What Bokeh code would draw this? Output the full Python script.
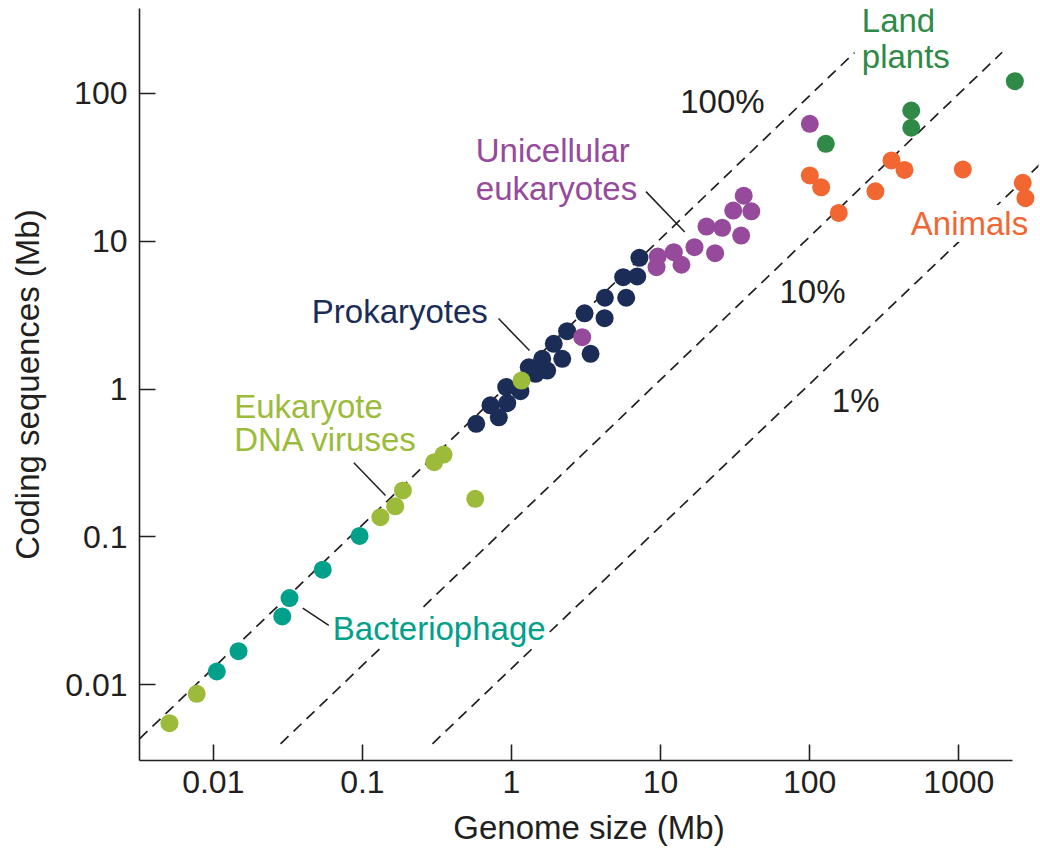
from bokeh.plotting import figure
from bokeh.models import FixedTicker, Label, Range1d
from bokeh.embed import file_html
from bokeh.resources import INLINE

# ---------------- data (Mb) ----------------
phage_x = [0.01055, 0.01476, 0.0290, 0.03244, 0.0542, 0.0957]
phage_y = [0.0123, 0.01687, 0.0290, 0.03855, 0.060, 0.1016]

virus_x = [0.00508, 0.00774, 0.132, 0.166, 0.187, 0.303, 0.350, 0.571, 1.167]
virus_y = [0.00550, 0.00869, 0.136, 0.161, 0.206, 0.320, 0.360, 0.181, 1.14]

prok_x = [0.580, 0.723, 0.822, 0.936, 0.921, 1.148, 1.306, 1.449, 1.607, 1.735, 1.92,
          2.19, 2.36, 3.39, 3.09, 4.21, 4.23, 5.88, 5.61, 6.97, 7.21]
prok_y = [0.582, 0.776, 0.644, 0.802, 1.03, 0.966, 1.403, 1.267, 1.599, 1.333, 2.02,
          1.60, 2.46, 1.73, 3.25, 3.01, 4.14, 4.14, 5.70, 5.77, 7.71]

unicell_x = [2.98, 9.57, 9.39, 12.26, 13.8, 16.87, 23.2, 20.3, 25.9, 34.7, 30.7, 40.6, 36.1, 100.2]
unicell_y = [2.24, 7.87, 6.66, 8.41, 6.92, 9.10, 8.28, 12.55, 12.3, 10.9, 16.1, 15.9, 20.3, 62.1]

plant_x = [128.3, 479.8, 479.8, 2377]
plant_y = [45.5, 76.4, 58.4, 120.5]

animal_x = [100.2, 119.4, 156.7, 276, 353.7, 432.5, 1064, 2685, 2798]
animal_y = [27.8, 23.1, 15.5, 21.7, 35.1, 30.3, 30.5, 24.8, 19.5]

# reference lines (100%, 10%, 1%)
guide_labels = ["100%", "10%", "1%"]
guide_x0 = [0.00320, 0.02825, 0.2951]
guide_y0 = [0.00431, 0.00399, 0.00399]
guide_x1 = [199.8, 1954, 3532]
guide_y1 = [188.4, 189.2, 33.3]
guide_label_x = [13.96, 64.7, 145.1]
guide_label_y = [73.2, 3.80, 0.697]

# leader lines from group labels
leader_x0 = [0.818, 7.98, 0.0876, 0.0398]
leader_y0 = [2.997, 21.6, 0.317, 0.0330]
leader_x1 = [1.320, 14.51, 0.1429, 0.0595]
leader_y1 = [1.821, 11.52, 0.1905, 0.0252]

x_ticks = [0.01, 0.1, 1, 10, 100, 1000]
x_tick_labels = ["0.01", "0.1", "1", "10", "100", "1000"]
y_ticks = [0.01, 0.1, 1, 10, 100]
y_tick_labels = ["0.01", "0.1", "1", "10", "100"]

C_PHAGE = "#00a08b"
C_VIRUS = "#9dbb3b"
C_PROK = "#1b2d56"
C_UNI = "#964a9b"
C_PLANT = "#2e8a46"
C_ANIMAL = "#f26632"
INK = "#231f20"
FONT = "Liberation Sans"

p = figure(width=1040, height=856,
           x_axis_type="log", y_axis_type="log",
           x_range=Range1d(0.0031989, 3424.0), y_range=Range1d(0.0030770, 373.9),
           output_backend="svg", toolbar_location=None,
           min_border_left=139, min_border_right=2, min_border_top=8, min_border_bottom=96,
           x_axis_label="Genome size (Mb)", y_axis_label="Coding sequences (Mb)")

p.outline_line_color = None
p.grid.visible = False
p.background_fill_color = "white"
p.border_fill_color = "white"

for ax in (p.xaxis[0], p.yaxis[0]):
    ax.axis_line_color = INK
    ax.axis_line_width = 1.6
    ax.major_tick_line_color = INK
    ax.major_tick_line_width = 1.6
    ax.major_tick_in = 16
    ax.major_tick_out = 0
    ax.minor_tick_line_color = None
    ax.major_label_text_font = FONT
    ax.major_label_text_font_size = "32px"
    ax.major_label_text_color = INK
    ax.axis_label_text_font = FONT
    ax.axis_label_text_font_size = "33px"
    ax.axis_label_text_font_style = "normal"
    ax.axis_label_text_color = INK

p.xaxis[0].ticker = FixedTicker(ticks=x_ticks, minor_ticks=[])
p.yaxis[0].ticker = FixedTicker(ticks=y_ticks, minor_ticks=[])
p.xaxis[0].major_label_overrides = dict(zip(x_ticks, x_tick_labels))
p.yaxis[0].major_label_overrides = dict(zip(y_ticks, y_tick_labels))
p.xaxis[0].bounds = (0.0032, 2286)
p.xaxis[0].major_label_standoff = 10
p.xaxis[0].axis_label_standoff = 13
p.yaxis[0].major_label_standoff = 12
p.yaxis[0].axis_label_standoff = 16

# dashed reference lines (lowest layer, so label boxes can mask them)
p.segment(x0=guide_x0, y0=guide_y0, x1=guide_x1, y1=guide_y1,
          line_color=INK, line_width=1.7, line_dash="11 7", level="image")

# leader lines
p.segment(x0=leader_x0, y0=leader_y0, x1=leader_x1, y1=leader_y1,
          line_color=INK, line_width=1.5)

# points
S = 18
p.scatter(phage_x, phage_y, size=S, fill_color=C_PHAGE, line_color=None)
p.scatter(prok_x, prok_y, size=S, fill_color=C_PROK, line_color=None)
p.scatter(virus_x, virus_y, size=S, fill_color=C_VIRUS, line_color=None)
p.scatter(unicell_x, unicell_y, size=S, fill_color=C_UNI, line_color=None)
p.scatter(plant_x, plant_y, size=S, fill_color=C_PLANT, line_color=None)
p.scatter(animal_x, animal_y, size=S, fill_color=C_ANIMAL, line_color=None)


def add_text(txt, x, y, color, bg=None):
    lab = Label(x=x, y=y, text=txt, text_font=FONT, text_font_size="33px",
                text_color=color, text_align="left", text_baseline="alphabetic",
                x_offset=-2, y_offset=12, level="underlay")
    if bg:
        lab.background_fill_color = bg
    p.add_layout(lab)


for t, lx, ly in zip(guide_labels, guide_label_x, guide_label_y):
    add_text(t, lx, ly, INK)

add_text("Land", 230.6, 259.3, C_PLANT)
add_text("plants", 230.6, 146.8, C_PLANT)
add_text("Unicellular", 0.594, 34.2, C_UNI)
add_text("eukaryotes", 0.594, 18.8, C_UNI)
add_text("Animals", 491.5, 10.91, C_ANIMAL, bg="white")
add_text("Prokaryotes", 0.0472, 2.76, C_PROK)
add_text("Eukaryote", 0.01424, 0.635, C_VIRUS)
add_text("DNA viruses", 0.01424, 0.3777, C_VIRUS)
add_text("Bacteriophage", 0.0653, 0.01993, C_PHAGE, bg="white")

open("out.html", "w").write(file_html(p, INLINE))
